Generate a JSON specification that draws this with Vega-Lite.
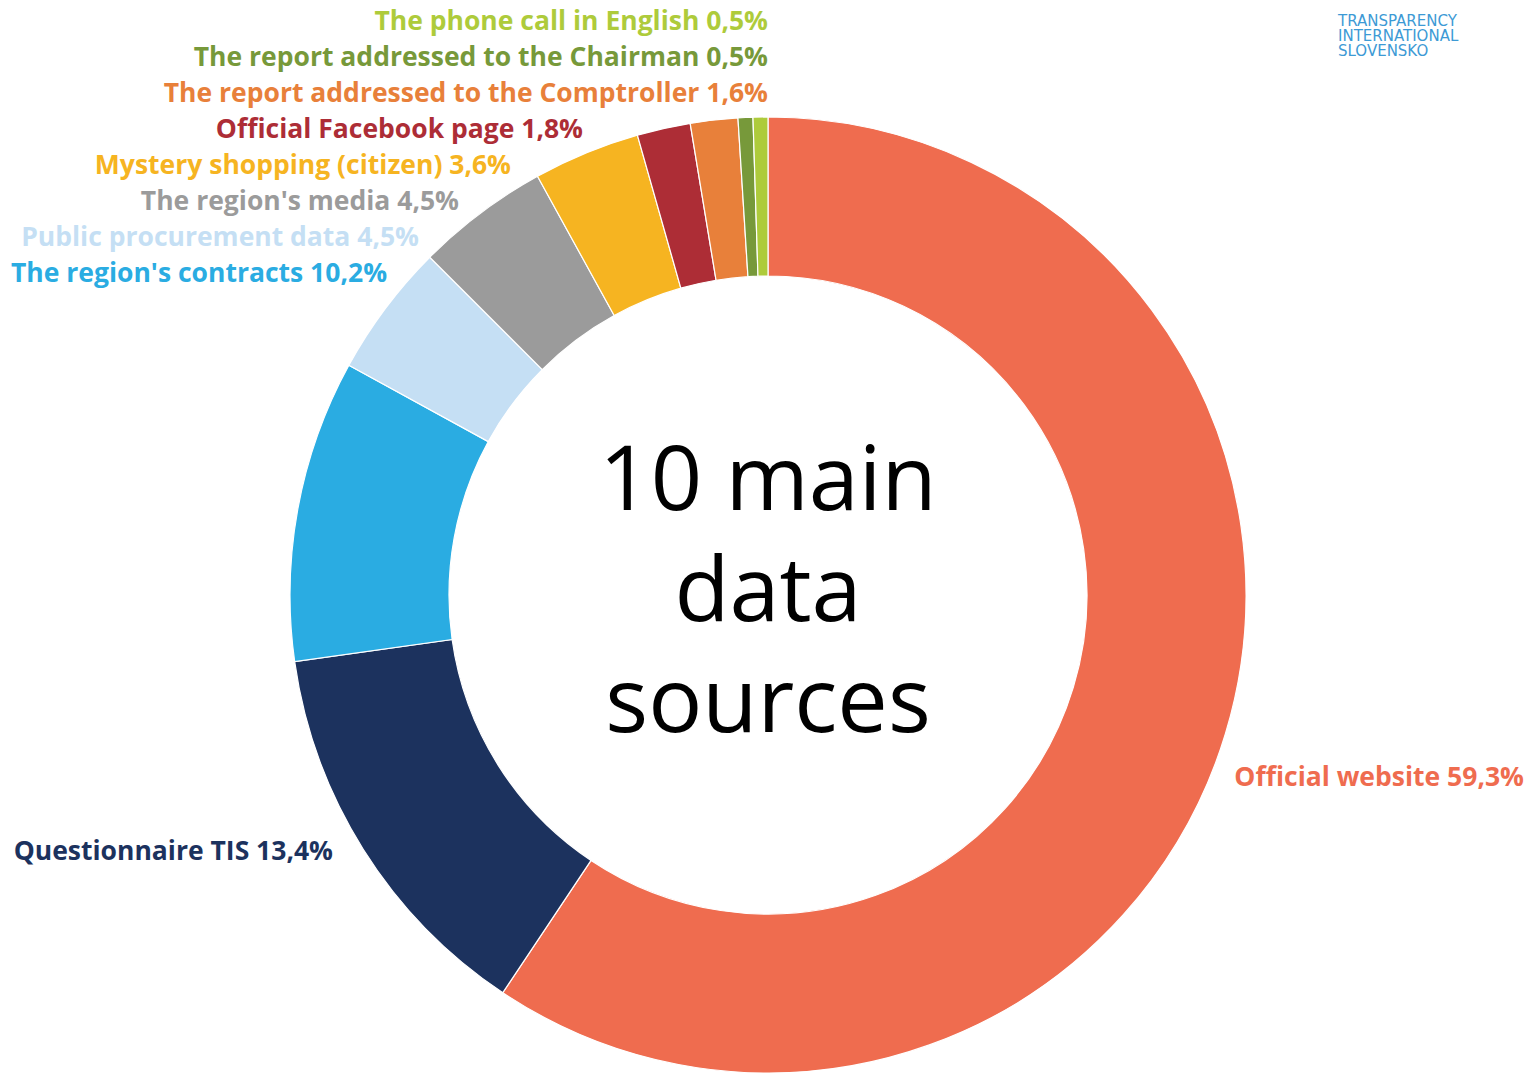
{
  "$schema": "https://vega.github.io/schema/vega-lite/v6.json",
  "width": 1520,
  "height": 958,
  "autosize": {"type": "none"},
  "padding": {"left": 8, "top": 116, "right": 0, "bottom": 0},
  "background": "white",
  "config": {"view": {"stroke": null}, "font": "Open Sans"},
  "title": {
    "text": ["TRANSPARENCY", "INTERNATIONAL", "SLOVENSKO"],
    "orient": "top",
    "anchor": "end",
    "frame": "group",
    "align": "left",
    "baseline": "top",
    "dx": -190,
    "offset": -50,
    "fontSize": 15,
    "fontWeight": "normal",
    "lineHeight": 15,
    "color": "#3D9AD5",
    "font": "DejaVu Sans"
  },
  "datasets": {
    "sources": [
      {"source": "Official website", "value": 59.3, "label": "Official website 59,3%"},
      {"source": "Questionnaire TIS", "value": 13.4, "label": "Questionnaire TIS 13,4%"},
      {"source": "The region's contracts", "value": 10.2, "label": "The region's contracts 10,2%"},
      {"source": "Public procurement data", "value": 4.5, "label": "Public procurement data 4,5%"},
      {"source": "The region's media", "value": 4.5, "label": "The region's media 4,5%"},
      {"source": "Mystery shopping (citizen)", "value": 3.6, "label": "Mystery shopping (citizen) 3,6%"},
      {"source": "Official Facebook page", "value": 1.8, "label": "Official Facebook page 1,8%"},
      {"source": "The report addressed to the Comptroller", "value": 1.6, "label": "The report addressed to the Comptroller 1,6%"},
      {"source": "The report addressed to the Chairman", "value": 0.5, "label": "The report addressed to the Chairman 0,5%"},
      {"source": "The phone call in English", "value": 0.5, "label": "The phone call in English 0,5%"}
    ],
    "center": [{"caption": "10 main data sources"}]
  },
  "layer": [
    {
      "data": {"name": "sources"},
      "mark": {"type": "arc", "outerRadius": 478, "innerRadius": 319, "stroke": "white", "strokeWidth": 1.2},
      "encoding": {
        "theta": {"field": "value", "type": "quantitative", "stack": true},
        "order": {"field": "value", "sort": "descending"},
        "color": {
          "field": "source",
          "type": "nominal",
          "legend": null,
          "scale": {
            "domain": ["Official website", "Questionnaire TIS", "The region's contracts", "Public procurement data", "The region's media", "Mystery shopping (citizen)", "Official Facebook page", "The report addressed to the Comptroller", "The report addressed to the Chairman", "The phone call in English"],
            "range": ["#EF6C4F", "#1C325E", "#2AACE2", "#C5DFF4", "#9B9B9B", "#F6B421", "#AD2D36", "#E8803A", "#77993A", "#AECB3B"]
          }
        }
      }
    },
    {
      "data": {"name": "sources"},
      "transform": [{"window": [{"op": "row_number", "as": "idx"}]}],
      "mark": {"type": "text", "align": "right", "baseline": "middle", "fontSize": 26.5, "fontWeight": "bold", "font": "Open Sans"},
      "encoding": {
        "text": {"field": "label", "type": "nominal"},
        "x": {
          "field": "idx",
          "type": "quantitative",
          "axis": null,
          "scale": {"zero": false, "nice": false, "domain": [1, 2, 3, 4, 5, 6, 7, 8, 9, 10], "range": [1516, 325, 379, 411, 451, 503, 575, 760, 760, 760]}
        },
        "y": {
          "field": "idx",
          "type": "quantitative",
          "axis": null,
          "scale": {"zero": false, "nice": false, "domain": [1, 2, 3, 4, 5, 6, 7, 8, 9, 10], "range": [662, 736, 158, 122, 86, 50, 14, -22, -58, -94]}
        },
        "color": {"field": "source", "type": "nominal", "legend": null}
      }
    },
    {
      "data": {"name": "center"},
      "mark": {"type": "text", "align": "center", "baseline": "middle", "fontSize": 90, "lineHeight": 111, "dy": -112, "font": "Open Sans", "color": "black", "text": ["10 main", "data", "sources"]},
      "encoding": {}
    }
  ]
}
